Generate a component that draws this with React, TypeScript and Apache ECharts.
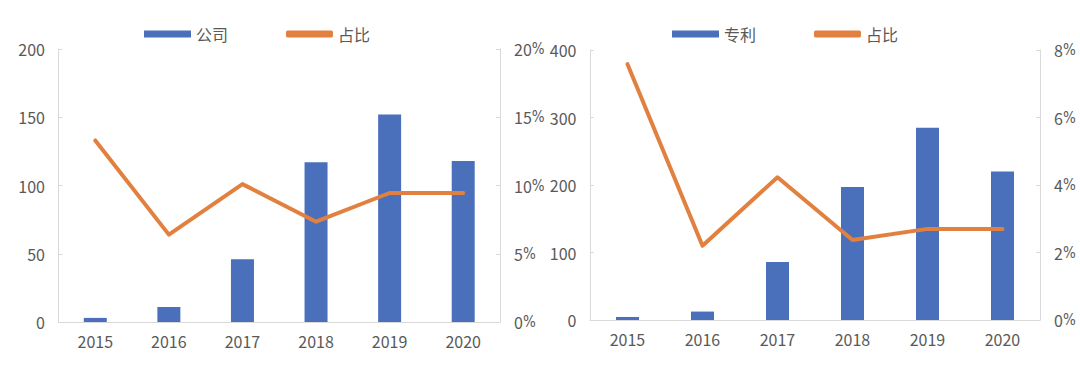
import React, { useEffect, useRef } from "react";
import * as echarts from "echarts";

const years = ["2015", "2016", "2017", "2018", "2019", "2020"];
const companyCounts = [3, 11, 46, 117, 152, 118];
const companyShare = [13.3, 6.4, 10.1, 7.35, 9.45, 9.45];
const patentCounts = [4.5, 12.5, 86, 197, 285, 220];
const patentShare = [7.58, 2.2, 4.23, 2.37, 2.7, 2.7];

const BAR = "#4A70BC";
const LINE = "#E2803F";
const TEXT = "#595959";
const AXIS = "#D9D9D9";
const FONT = "'Noto Sans CJK SC', 'Noto Sans', sans-serif";

export default function App() {
  const ref = useRef<HTMLDivElement>(null);
  useEffect(() => {
    document.body.style.margin = "0";
    const chart = echarts.init(ref.current!, null, { renderer: "svg" });
    const label = { color: TEXT, fontSize: 16, fontFamily: FONT };
    const axisLine = { show: true, lineStyle: { color: AXIS, width: 1 } };
    const xAxis = (gi: number) => ({
      type: "category",
      gridIndex: gi,
      data: years,
      axisLine,
      axisTick: { show: false },
      axisLabel: { ...label, margin: 11 },
    });
    const yLeft = (gi: number, max: number, interval: number) => ({
      type: "value",
      gridIndex: gi,
      position: "left",
      min: 0,
      max,
      interval,
      splitLine: { show: false },
      axisLine,
      axisTick: { show: true, inside: true, length: 4, lineStyle: { color: AXIS } },
      axisLabel: { ...label, margin: 13.5 },
    });
    const yRight = (gi: number, max: number, interval: number) => ({
      type: "value",
      gridIndex: gi,
      position: "right",
      min: 0,
      max,
      interval,
      splitLine: { show: false },
      axisLine,
      axisTick: { show: true, inside: true, length: 4, lineStyle: { color: AXIS } },
      axisLabel: {
        ...label,
        margin: 14,
        formatter: (v: number) => "{n|" + v + "}{p|%}",
        rich: {
          n: { color: TEXT, fontSize: 16, fontFamily: FONT, verticalAlign: "middle" },
          p: { color: TEXT, fontSize: 15, fontFamily: "'DejaVu Sans Condensed', 'DejaVu Sans', sans-serif", verticalAlign: "middle" },
        },
      },
    });
    const legend = (left: number, barName: string) => ({
      left,
      top: 21,
      itemWidth: 47,
      itemHeight: 7,
      itemGap: 58,
      textStyle: { color: TEXT, fontSize: 16, fontFamily: FONT },
      data: [
        { name: barName, icon: "rect" },
        { name: "占比", icon: "roundRect" },
      ],
    });
    chart.setOption({
      animation: false,
      legend: [legend(139, "公司"), legend(667, "专利")],
      grid: [
        { left: 58.5, right: 580, top: 49, bottom: 52 },
        { left: 590, right: 40, top: 50, bottom: 54 },
      ],
      xAxis: [xAxis(0), xAxis(1)],
      yAxis: [yLeft(0, 200, 50), yRight(0, 20, 5), yLeft(1, 400, 100), yRight(1, 8, 2)],
      series: [
        {
          name: "公司",
          type: "bar",
          xAxisIndex: 0,
          yAxisIndex: 0,
          data: companyCounts,
          barWidth: 23,
          itemStyle: { color: BAR },
        },
        {
          name: "占比",
          type: "line",
          xAxisIndex: 0,
          yAxisIndex: 1,
          data: companyShare,
          symbol: "none",
          lineStyle: { color: LINE, width: 4, join: "round", cap: "round" },
          itemStyle: { color: LINE },
        },
        {
          name: "专利",
          type: "bar",
          xAxisIndex: 1,
          yAxisIndex: 2,
          data: patentCounts,
          barWidth: 23,
          itemStyle: { color: BAR },
        },
        {
          name: "占比",
          type: "line",
          xAxisIndex: 1,
          yAxisIndex: 3,
          data: patentShare,
          symbol: "none",
          lineStyle: { color: LINE, width: 4, join: "round", cap: "round" },
          itemStyle: { color: LINE },
        },
      ],
    });
    return () => chart.dispose();
  }, []);
  return <div ref={ref} style={{ width: 1080, height: 374 }} />;
}
